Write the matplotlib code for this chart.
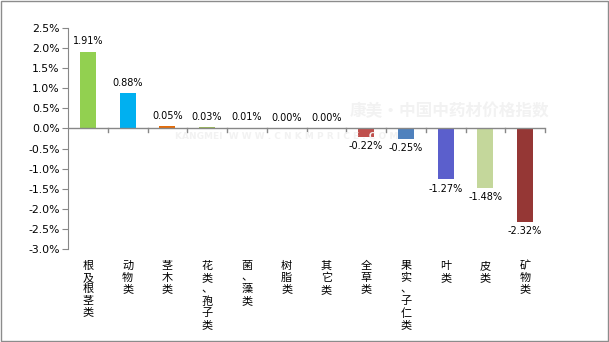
import matplotlib
matplotlib.use("Agg")
import matplotlib.pyplot as plt
from matplotlib.patches import Rectangle

plt.rcParams['font.family'] = ['DejaVu Sans', 'Noto Sans CJK SC']

categories = ["根及根茎类", "动物类", "茎木类", "花类、孢子类", "菌、藻类", "树脂类",
              "其它类", "全草类", "果实、子仁类", "叶类", "皮类", "矿物类"]
values = [1.91, 0.88, 0.05, 0.03, 0.01, 0.00, 0.00, -0.22, -0.25, -1.27, -1.48, -2.32]
colors = ["#92D050", "#00B0F0", "#E46C0A", "#9BBB59", "#4BACC6", "#8064A2",
          "#F79646", "#C0504D", "#4F81BD", "#5B5FCC", "#C4D79B", "#953735"]
yticks = [2.5, 2.0, 1.5, 1.0, 0.5, 0.0, -0.5, -1.0, -1.5, -2.0, -2.5, -3.0]

fig = plt.figure(figsize=(6.09, 3.42), dpi=100)
ax = fig.add_axes([68/609, 1-249/342, (545-68)/609, (249-28)/342])

x = list(range(len(categories)))
ax.bar(x, values, width=0.4, color=colors, zorder=2)

ax.set_xlim(-0.5, len(categories)-0.5)
ax.set_ylim(-3.0, 2.5)
ax.set_yticks(yticks)
ax.set_yticklabels([f"{v:.1f}%" for v in yticks], fontsize=7.8)

for s in ["top", "right", "bottom"]:
    ax.spines[s].set_visible(False)
ax.spines["left"].set_color("#878787")
ax.tick_params(axis='y', length=4, color="#878787", pad=2)
ax.set_xticks([])

# zero line with category separator ticks
ax.axhline(0, color="#878787", lw=1, zorder=3)
for b in range(1, len(categories)+1):
    ax.plot([b-0.5, b-0.5], [0, -0.1], color="#878787", lw=1, zorder=3, clip_on=False)

# data labels
for xi, v in zip(x, values):
    if v >= 0:
        ax.annotate(f"{v:.2f}%", (xi, v), xytext=(0, 4), textcoords="offset points",
                    ha="center", va="bottom", fontsize=7, zorder=4)
    else:
        ax.annotate(f"{v:.2f}%", (xi, v), xytext=(0, -3), textcoords="offset points",
                    ha="center", va="top", fontsize=7, zorder=4)

# vertical category labels
for xi, c in zip(x, categories):
    ax.text(xi, -3.0 - 0.3, "\n".join(c), ha="center", va="top", fontsize=8,
            family=["Noto Sans CJK SC", "DejaVu Sans"], linespacing=1.2,
            transform=ax.transData, clip_on=False)

# very faint watermark
fig.text(350/609, 0.675, "康美·中国中药材价格指数", fontsize=12, color="#F2F2F2",
         family=["Noto Sans CJK SC"], ha="left", va="center", weight="bold", zorder=0)
fig.text(0.47, 0.60, "KANGMEI  W W W . C N K M P R I C E . C O M", fontsize=6.5, color="#F2F2F2",
         ha="center", va="center", weight="bold", zorder=0)

fig.patches.append(Rectangle((0.001, 0.002), 0.997, 0.995, transform=fig.transFigure,
                             fill=False, edgecolor="#8C8C8C", lw=1))

fig.savefig("out.png", dpi=100)
